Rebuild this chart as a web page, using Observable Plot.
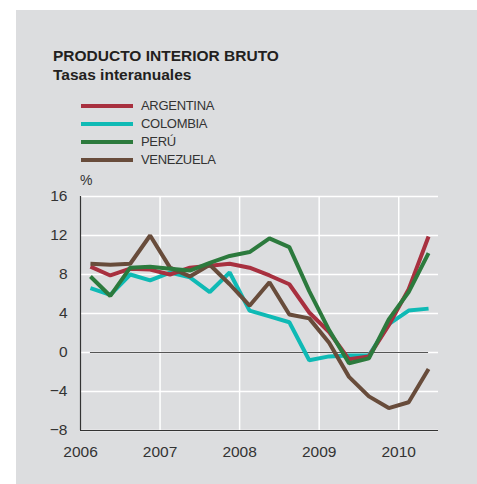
<!DOCTYPE html>
<html><head><meta charset="utf-8">
<script src="https://cdn.jsdelivr.net/npm/d3@7"></script>
<script src="https://cdn.jsdelivr.net/npm/@observablehq/plot@0.6"></script>
<style>
body{margin:0;background:#fff;font-family:"Liberation Sans",Arial,sans-serif;color:#333;}
#bg{position:absolute;left:16px;top:10px;width:461px;height:474px;background:#dcdddf;}
#title{position:absolute;left:53px;top:47px;font-weight:bold;font-size:15.5px;line-height:18.5px;color:#231f20;letter-spacing:0;}
#legend{position:absolute;left:81px;top:97px;}
.item{position:relative;height:18px;}
.sw{position:absolute;left:0;top:7px;width:52px;height:4px;}
.lab{position:absolute;left:60px;top:0;font-size:13px;line-height:18px;letter-spacing:-0.3px;color:#333;white-space:nowrap;}
#pct{position:absolute;left:80px;top:172px;font-size:14px;color:#333;}
#chart{position:absolute;left:0;top:165px;}
</style>
</head><body>
<div id="bg"></div>
<div id="title">PRODUCTO INTERIOR BRUTO<br>Tasas interanuales</div>
<div id="legend"></div>
<div id="pct">%</div>
<div id="chart"></div>
<script>
const countries = ["ARGENTINA", "COLOMBIA", "PERÚ", "VENEZUELA"];
const colors = ["#a8303f", "#0fbab5", "#2c7a3d", "#684c3b"];
const drawOrder = ["COLOMBIA", "ARGENTINA", "VENEZUELA", "PERÚ"];
const years = [2006, 2007, 2008, 2009, 2010];
const yTicks = [-8, -4, 0, 4, 8, 12, 16];
// quarters 2006 T1 .. 2010 T2
const quarterYears = [2006,2006,2006,2006,2007,2007,2007,2007,2008,2008,2008,2008,2009,2009,2009,2009,2010,2010];
const quarterNums  = [1,2,3,4,1,2,3,4,1,2,3,4,1,2,3,4,1,2];
const argentina = [8.8, 7.9, 8.6, 8.5, 8.0, 8.7, 8.9, 9.1, 8.7, 7.9, 7.0, 4.1, 2.1, -0.7, -0.4, 2.8, 6.5, 11.9];
const colombia  = [6.6, 5.9, 8.0, 7.4, 8.2, 7.7, 6.2, 8.2, 4.3, 3.7, 3.1, -0.8, -0.4, -0.3, -0.3, 2.9, 4.3, 4.5];
const peru      = [7.8, 5.8, 8.7, 8.8, 8.6, 8.4, 9.2, 9.9, 10.3, 11.7, 10.8, 6.3, 2.3, -1.1, -0.6, 3.4, 6.2, 10.2];
const venezuela = [9.1, 9.0, 9.1, 12.0, 8.7, 7.8, 9.0, 7.0, 4.8, 7.2, 3.9, 3.5, 1.0, -2.5, -4.5, -5.7, -5.1, -1.7];

const seriesValues = {"ARGENTINA": argentina, "COLOMBIA": colombia, "PERÚ": peru, "VENEZUELA": venezuela};
const xs = quarterYears.map((y, i) => y + (quarterNums[i] - 0.5) / 4);
const rows = drawOrder.flatMap(c => seriesValues[c].map((v, i) => ({country: c, x: xs[i], v})));

// legend
const leg = document.getElementById("legend");
countries.forEach((c, i) => {
  const it = document.createElement("div"); it.className = "item";
  const sw = document.createElement("div"); sw.className = "sw"; sw.style.background = colors[i];
  const lb = document.createElement("div"); lb.className = "lab"; lb.textContent = c;
  it.appendChild(sw); it.appendChild(lb); leg.appendChild(it);
});

const chart = Plot.plot({
  width: 477, height: 319,
  marginLeft: 80, marginRight: 39, marginTop: 31, marginBottom: 54,
  style: {background: "transparent", fontFamily: "'Liberation Sans', Arial, sans-serif", fontSize: "15px", color: "#333", overflow: "visible"},
  x: {domain: [2006, 2010.5]},
  y: {domain: [-8, 16]},
  color: {domain: countries, range: colors},
  marks: [
    Plot.gridY(yTicks, {stroke: "#fff", strokeOpacity: 1, strokeWidth: 1.5}),
    Plot.gridX(years.slice(1), {stroke: "#fff", strokeOpacity: 1, strokeWidth: 1.5}),
    Plot.axisY(yTicks, {tickSize: 0, tickPadding: 13, label: null, fontSize: 15.5}),
    Plot.axisX(years, {tickSize: 0, tickPadding: 15, label: null, fontSize: 15.5, tickFormat: d => String(d)}),
    Plot.ruleY([0], {x1: () => xs[0], x2: () => xs[xs.length - 1], stroke: "#555", strokeWidth: 1.2}),
    Plot.ruleX([years[0]], {stroke: "#333", strokeWidth: 1.2}),
    Plot.ruleY([yTicks[0]], {stroke: "#333", strokeWidth: 1.2}),
    Plot.line(rows, {x: "x", y: "v", z: "country", stroke: "country", strokeWidth: 4, strokeLinejoin: "miter", strokeLinecap: "butt"})
  ]
});
document.getElementById("chart").appendChild(chart);
</script>
</body></html>
